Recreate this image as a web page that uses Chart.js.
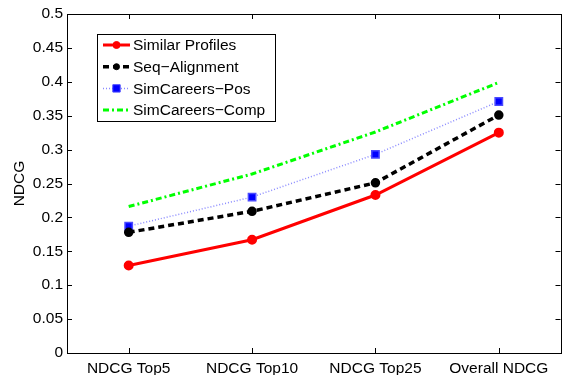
<!DOCTYPE html>
<html>
<head>
<meta charset="utf-8">
<script src="https://cdn.jsdelivr.net/npm/chart.js@4/dist/chart.umd.min.js"></script>
<style>
  html, body { margin: 0; padding: 0; background: #fff; }
  #wrap { width: 568px; height: 375px; }
</style>
</head>
<body>
<div id="wrap"><canvas id="ndcgChart"></canvas></div>
<script>
// values
const categories = ['NDCG Top5', 'NDCG Top10', 'NDCG Top25', 'Overall NDCG'];
const similarProfiles = [0.129, 0.167, 0.233, 0.325];
const seqAlignment = [0.178, 0.209, 0.251, 0.351];
const simCareersPos = [0.187, 0.230, 0.293, 0.371];
const simCareersComp = [0.216, 0.264, 0.326, 0.399];
const yTicks = [0, 0.05, 0.1, 0.15, 0.2, 0.25, 0.3, 0.35, 0.4, 0.45, 0.5];

const FONT = '"Liberation Sans", Arial, Helvetica, sans-serif';
Chart.defaults.font.family = FONT;
Chart.defaults.font.size = 15.5;
Chart.defaults.color = '#000';

// MATLAB style box with inward ticks on all four sides
const frameBox = {
    id: 'frameBox',
    afterDraw(chart) {
        const { ctx, chartArea: a, scales } = chart;
        const len = 5;
        ctx.save();
        ctx.strokeStyle = '#000';
        ctx.lineWidth = 1;
        ctx.beginPath();
        scales.x.ticks.forEach((t, i) => {
            const px = Math.round(scales.x.getPixelForTick(i)) + 0.5;
            ctx.moveTo(px, a.bottom); ctx.lineTo(px, a.bottom - len);
            ctx.moveTo(px, a.top); ctx.lineTo(px, a.top + len);
        });
        scales.y.ticks.forEach((t, i) => {
            const py = Math.round(scales.y.getPixelForTick(i)) + 0.5;
            ctx.moveTo(a.left, py); ctx.lineTo(a.left + len, py);
            ctx.moveTo(a.right, py); ctx.lineTo(a.right - len, py);
        });
        ctx.stroke();
        ctx.strokeRect(Math.round(a.left) + 0.5, Math.round(a.top) + 0.5,
            Math.round(a.right - a.left), Math.round(a.bottom - a.top));
        ctx.restore();
    }
};

// legend box inside the plot, top-left
const boxLegend = {
    id: 'boxLegend',
    afterDatasetsDraw(chart, args, opts) {
        const { ctx } = chart;
        ctx.save();
        ctx.fillStyle = '#fff';
        ctx.fillRect(opts.x, opts.y, opts.w, opts.h);
        ctx.strokeStyle = '#000';
        ctx.lineWidth = 1;
        ctx.strokeRect(opts.x + 0.5, opts.y + 0.5, opts.w, opts.h);
        chart.data.datasets.forEach((ds, i) => {
            const y = opts.y + opts.first + i * opts.step;
            const x0 = opts.x + 6, x1 = opts.x + 33;
            ctx.strokeStyle = ds.borderColor;
            ctx.lineWidth = ds.borderWidth;
            ctx.setLineDash(ds.borderDash || []);
            ctx.beginPath();
            ctx.moveTo(x0, y); ctx.lineTo(x1, y);
            ctx.stroke();
            ctx.setLineDash([]);
            if (ds.pointRadius > 0) {
                ctx.fillStyle = ds.pointBackgroundColor;
                ctx.strokeStyle = ds.pointBorderColor;
                ctx.lineWidth = 1;
                Chart.helpers.drawPoint(ctx, { pointStyle: ds.pointStyle, radius: ds.pointRadius, borderWidth: 1 }, (x0 + x1) / 2, y);
            }
            ctx.fillStyle = '#000';
            ctx.font = '15.5px ' + FONT;
            ctx.textBaseline = 'middle';
            ctx.fillText(ds.label, opts.x + 36, y + 1);
        });
        ctx.restore();
    }
};

new Chart(document.getElementById('ndcgChart'), {
    type: 'line',
    data: {
        labels: categories,
        datasets: [
            {
                label: 'Similar Profiles',
                data: similarProfiles,
                borderColor: '#ff0000',
                borderWidth: 3,
                pointStyle: 'circle',
                pointRadius: 3.5,
                pointBackgroundColor: '#ff0000',
                pointBorderColor: '#ff0000'
            },
            {
                label: 'Seq\u2212Alignment',
                data: seqAlignment,
                borderColor: '#000000',
                borderWidth: 3.5,
                borderDash: [6, 4],
                pointStyle: 'circle',
                pointRadius: 3,
                pointBackgroundColor: '#000000',
                pointBorderColor: '#000000'
            },
            {
                label: 'SimCareers\u2212Pos',
                data: simCareersPos,
                borderColor: '#8a8aff',
                borderWidth: 1.5,
                borderDash: [1, 2],
                pointStyle: 'rect',
                pointRadius: 5.2,
                pointBackgroundColor: '#0000ff',
                pointBorderColor: '#4a4aff'
            },
            {
                label: 'SimCareers\u2212Comp',
                data: simCareersComp,
                borderColor: '#00ff00',
                borderWidth: 3,
                borderDash: [6, 3, 2, 3],
                pointRadius: 0,
                pointBackgroundColor: '#00ff00',
                pointBorderColor: '#00ff00'
            }
        ]
    },
    options: {
        responsive: true,
        maintainAspectRatio: false,
        animation: false,
        layout: { padding: { top: 14, right: 7, left: 0, bottom: 0 } },
        elements: { line: { tension: 0 } },
        plugins: {
            legend: { display: false },
            tooltip: { enabled: false },
            boxLegend: { x: 97, y: 34, w: 178, h: 87, first: 11, step: 21.7 }
        },
        scales: {
            x: {
                type: 'category',
                offset: true,
                grid: { display: false, drawTicks: false },
                border: { display: false },
                ticks: { padding: 6, maxRotation: 0, autoSkip: false },
                afterFit: s => { s.height = 22; }
            },
            y: {
                min: 0,
                max: 0.5,
                grid: { display: false, drawTicks: false },
                border: { display: false },
                afterBuildTicks: s => { s.ticks = yTicks.map(v => ({ value: v })); },
                ticks: { padding: 4, callback: v => String(+v.toFixed(2)) },
                title: { display: true, text: 'NDCG', padding: { top: 10, bottom: 0 } },
                afterFit: s => { s.width = 67; }
            }
        }
    },
    plugins: [frameBox, boxLegend]
});
</script>
</body>
</html>
